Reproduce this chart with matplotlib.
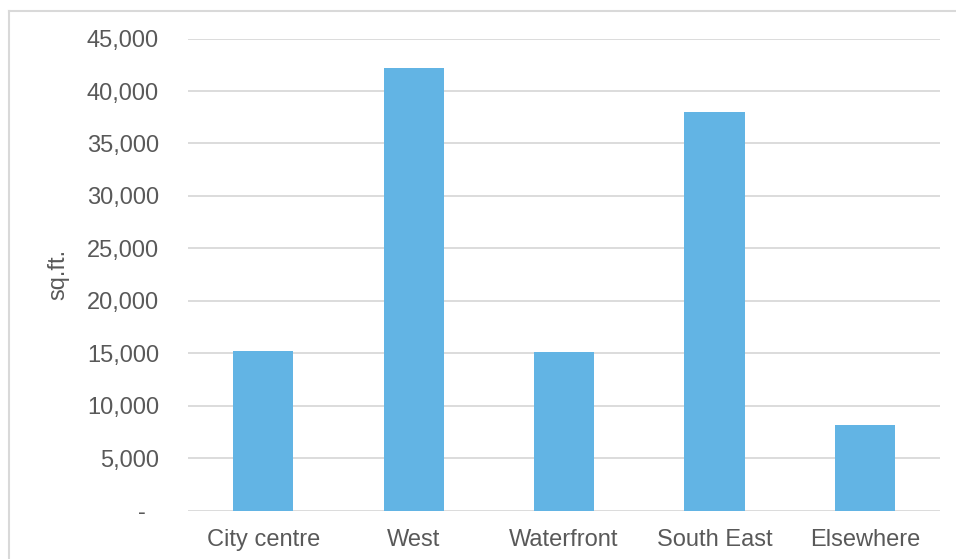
import matplotlib.pyplot as plt
from matplotlib.lines import Line2D
from matplotlib.ticker import FuncFormatter

plt.rcParams['font.family'] = ['Liberation Sans', 'DejaVu Sans']

categories = ['City centre', 'West', 'Waterfront', 'South East', 'Elsewhere']
values = [15200, 42200, 15100, 38000, 8200]

BAR_COLOR = '#62b4e4'
TEXT_COLOR = '#595959'
GRID_COLOR = '#d9d9d9'

fig = plt.figure(figsize=(9.56, 5.59), dpi=100)
ax = fig.add_axes([0.1967, 0.0864, 0.7866, 0.8446])

x = range(len(categories))
ax.bar(x, values, width=0.4, color=BAR_COLOR, zorder=3)

ax.set_xlim(-0.5, len(categories) - 0.5)
ax.set_ylim(0, 45000)
ax.set_yticks(range(0, 45001, 5000))
# accounting-style zero shown as a dash
ax.yaxis.set_major_formatter(FuncFormatter(lambda v, p: '-  ' if v == 0 else f'{int(v):,}'))
ax.set_xticks(list(x))
ax.set_xticklabels(categories)

ax.grid(axis='y', color=GRID_COLOR, linewidth=1.3, zorder=0)
for s in ax.spines.values():
    s.set_visible(False)
ax.tick_params(axis='both', length=0, labelsize=17, colors=TEXT_COLOR)
ax.tick_params(axis='y', pad=21)
ax.tick_params(axis='x', pad=13.5)
ax.set_ylabel('sq.ft.', fontsize=17, color=TEXT_COLOR)
ax.yaxis.set_label_coords(-0.158, 0.5)

# outer chart border (left and top edges visible)
fig.add_artist(Line2D([8.5 / 956, 8.5 / 956], [0, 1 - 11 / 559], color=GRID_COLOR, lw=1.5))
fig.add_artist(Line2D([8.5 / 956, 1], [1 - 11 / 559, 1 - 11 / 559], color=GRID_COLOR, lw=1.5))

fig.savefig('out.png', dpi=100)
